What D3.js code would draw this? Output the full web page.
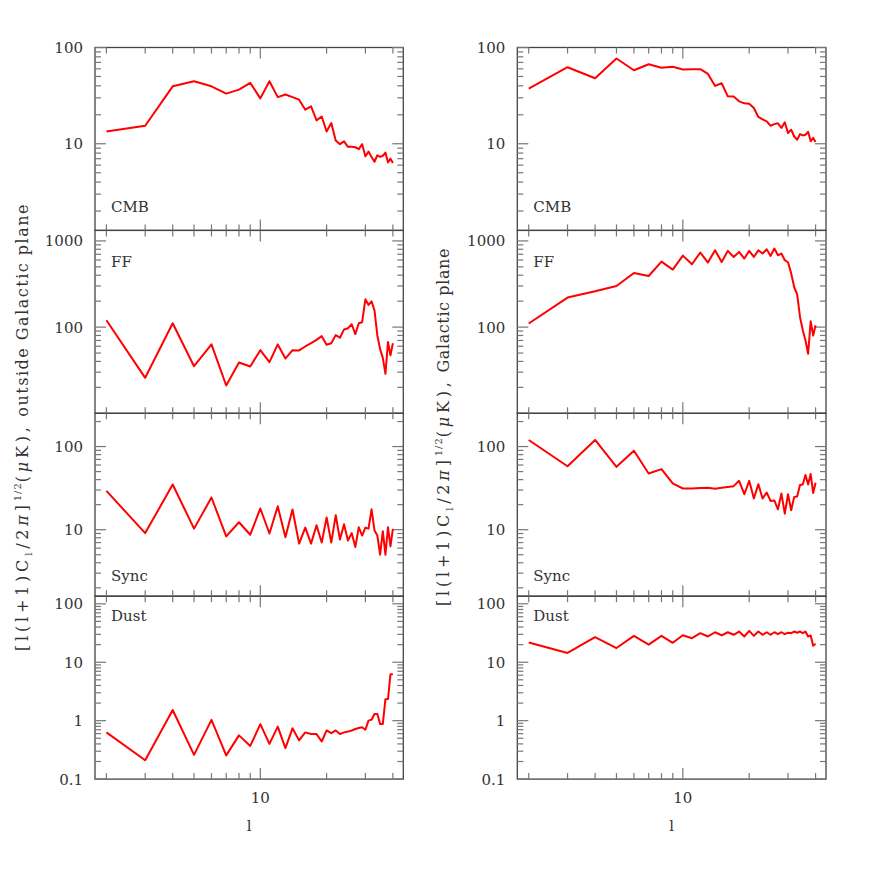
<!DOCTYPE html>
<html><head><meta charset="utf-8">
<script src="https://cdn.jsdelivr.net/npm/d3@7/dist/d3.min.js"></script>
<style>body{margin:0;background:#fff}svg{display:block}</style>
</head><body>
<script>
const ells = [2,3,4,5,6,7,8,9,10,11,12,13,14,15,16,17,18,19,20,21,22,23,24,25,26,27,28,29,30,31,32,33,34,35,36,37,38,39,40];

const cmbOut  = [13.4,15.4,39.5,44.6,39.5,33.2,36.5,42.9,29.6,44.6,30.5,32.5,30.5,28.7,22.6,24.5,17.5,19.2,13.4,16.4,10.8,9.9,10.6,9.3,9.3,9.2,8.8,9.9,7.4,8.3,7.3,6.5,7.6,7.3,7.5,8.1,6.4,7.0,6.3];
const ffOut   = [120,25.8,111,35.2,63,21,38.9,34.9,54,39.2,63,43.2,54,53.6,59.6,65,71,78.5,62.4,65,80.7,75.3,94,97,108,83,111,114,210,181,199,156,80,55.5,44,28.7,67,47,65];
const syncOut = [29.3,9.1,35,10.3,24.4,8.3,12.3,8.7,18,9,19.1,8.1,17.5,6.8,10.6,6.8,11.3,7.0,14,7.0,14.9,7.6,11.6,7.4,9.1,6.2,10.7,8.5,10.6,10.3,17.6,9.8,8.5,5.0,9.6,5.0,10.7,6.3,10.2];
const dustOut = [0.63,0.21,1.52,0.26,1.03,0.255,0.56,0.37,0.87,0.40,0.79,0.34,0.74,0.46,0.63,0.59,0.59,0.44,0.68,0.61,0.68,0.59,0.63,0.65,0.68,0.72,0.75,0.77,0.70,1.0,1.04,1.3,1.3,0.88,0.88,2.33,2.35,6.2,6.2];

const cmbGal  = [37.4,62.4,47.9,76.8,58,67,61.5,63,59,59.5,59.5,53.2,39.9,42.5,31.1,30.9,27.6,26.3,26.1,23.5,19,17.9,17.1,15.4,16,16.3,14.6,16.7,12.9,14,11.9,11,12.6,12.2,12.4,13.3,10.6,11.5,10.4];
const ffGal   = [110,220,260,300,425,392,575,465,675,536,733,561,780,570,766,651,745,624,766,651,780,713,800,670,816,682,713,597,565,420,290,240,131,92,70,49,117,80,105];
const syncGal = [120,58,120,57,89,47.5,53.6,36,31.3,31.3,31.8,32,31,32,32.7,33.4,38.7,26.7,38.7,23.7,35.3,23.7,28,22.2,22.5,17.6,27.2,15.6,26.7,17.1,24.8,25,34.4,35,45.4,35,46.7,27.7,36.7];
const dustGal = [21.8,14.4,26.8,17.5,28.3,20,28.3,21.5,29,25.8,31.4,27.6,32.6,28.7,32.6,29.5,33.5,27.6,34.4,28.3,33.5,29.5,32.6,29.5,32.6,30.2,32.6,30.2,32,31.4,33.5,32,33.5,31.4,33.5,27.6,28.7,19.2,20.7];

const panelNames = ["CMB","FF","Sync","Dust"];
const yDomains = [[1.2589,100],[10,1324],[1.585,251.2],[0.1,134.9]];
const yTickLabels = [["10","100"],["100","1000"],["10","100"],["0.1","1","10","100"]];
const xTickLabels = ["10"];
const xMinorTicks = [2,3,4,5,6,7,8,9,20,30,40];
const xMajorTicks = [10];
const titles = ["outside Galactic plane","Galactic plane"];

const W = 872, H = 872;
const svg = d3.select("body").append("svg").attr("width",W).attr("height",H);
const FONT = "'DejaVu Serif', 'Liberation Serif', serif";
const frameCol = "#444", tickCol = "#777", textCol = "#333";

const columns = [
  {x0:95, x1:403.3, series:[cmbOut,ffOut,syncOut,dustOut], titleX:22, textSpacing:1.5},
  {x0:517.3, x1:826, series:[cmbGal,ffGal,syncGal,dustGal], titleX:443, textSpacing:0.6}
];
const top0 = 47.5, ph = 182.9;
const labelPos = [ph-18, 36.5, ph-15, 25];

columns.forEach((col, ci) => {
  const x = d3.scaleLog().domain([1.775, 44.6]).range([col.x0, col.x1]);
  panelNames.forEach((name, pi) => {
    const yt = top0 + pi*ph, yb = yt + ph;
    const y = d3.scaleLog().domain(yDomains[pi]).range([yb, yt]);
    const g = svg.append("g");
    g.append("rect").attr("x",col.x0).attr("y",yt).attr("width",col.x1-col.x0).attr("height",ph)
      .attr("fill","none").attr("stroke",frameCol).attr("stroke-width",1.3);
    const xt = g.append("g").attr("stroke",tickCol).attr("stroke-width",1.2);
    xMinorTicks.concat(xMajorTicks).forEach(t => {
      const len = xMajorTicks.includes(t) ? 11 : 6;
      xt.append("line").attr("x1",x(t)).attr("x2",x(t)).attr("y1",yb).attr("y2",yb-len);
      xt.append("line").attr("x1",x(t)).attr("x2",x(t)).attr("y1",yt).attr("y2",yt+len);
    });
    const [d0,d1] = yDomains[pi];
    const e0 = Math.floor(Math.log10(d0)), e1 = Math.ceil(Math.log10(d1));
    for (let e=e0; e<=e1; e++) {
      for (let m=1; m<=9; m++) {
        const v = m*Math.pow(10,e);
        if (v < d0*0.999 || v > d1*1.001) continue;
        const len = m===1 ? 11 : 6;
        xt.append("line").attr("x1",col.x0).attr("x2",col.x0+len).attr("y1",y(v)).attr("y2",y(v));
        xt.append("line").attr("x1",col.x1).attr("x2",col.x1-len).attr("y1",y(v)).attr("y2",y(v));
      }
    }
    yTickLabels[pi].forEach(s => {
      g.append("text").attr("x",col.x0-12).attr("y",y(+s)).attr("dy","0.36em")
        .attr("text-anchor","end").attr("font-family",FONT).attr("font-size",15)
        .attr("fill",textCol).text(s);
    });
    const line = d3.line().x((d,i)=>x(ells[i])).y(d=>y(d));
    g.append("path").datum(col.series[pi]).attr("d",line)
      .attr("fill","none").attr("stroke","#ff0000").attr("stroke-width",2).attr("stroke-linejoin","round");
    g.append("text").attr("x",col.x0+16).attr("y",yt+labelPos[pi])
      .attr("font-family",FONT).attr("font-size",15).attr("fill",textCol).text(name);
    if (pi === 3) {
      xTickLabels.forEach(s => {
        g.append("text").attr("x",x(+s)).attr("y",yb+24).attr("text-anchor","middle")
          .attr("font-family",FONT).attr("font-size",15).attr("fill",textCol).text(s);
      });
      g.append("text").attr("x",(col.x0+col.x1)/2).attr("y",yb+52).attr("text-anchor","middle")
        .attr("font-family",FONT).attr("font-size",15).attr("fill",textCol).text("l");
    }
  });
  const cy = 427;
  const t = svg.append("text").attr("transform",`translate(${col.titleX},${cy}) rotate(-90)`)
    .attr("text-anchor","middle").attr("dy","0.36em")
    .attr("font-family",FONT).attr("font-size",16).attr("fill",textCol);
  const ms = 3.8;
  t.append("tspan").attr("letter-spacing",ms).text("[l(l+1)C");
  t.append("tspan").attr("font-size",10).attr("dy",4).attr("letter-spacing",ms).text("l");
  t.append("tspan").attr("dy",-4).attr("letter-spacing",ms).text("/2");
  t.append("tspan").attr("font-style","italic").attr("letter-spacing",ms).text("π");
  t.append("tspan").attr("letter-spacing",ms).text("]");
  t.append("tspan").attr("font-size",10).attr("dy",-7).attr("letter-spacing",1).text("1/2");
  t.append("tspan").attr("dy",7).attr("letter-spacing",ms).text("(");
  t.append("tspan").attr("font-style","italic").attr("letter-spacing",ms).text("μ");
  t.append("tspan").attr("letter-spacing",ms).text("K),");
  t.append("tspan").attr("letter-spacing",col.textSpacing).text(" " + titles[ci]);
});
</script>
</body></html>
